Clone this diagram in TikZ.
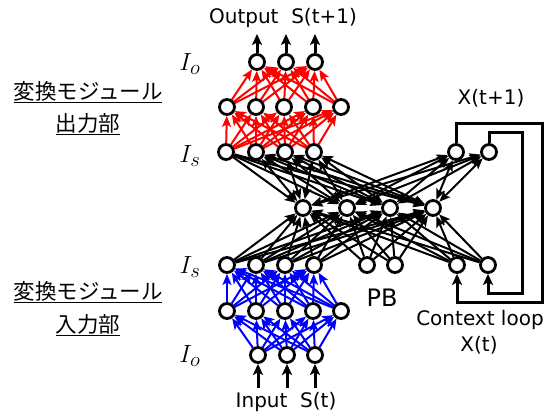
\documentclass[tikz,border=0pt]{standalone}
\usepackage{fontspec}
\setmainfont{DejaVu Sans}
\newfontfamily\jpfont{Noto Sans CJK JP}
\usetikzlibrary{arrows.meta}
\pgfdeclarelayer{background}
\pgfsetlayers{background,main}
\begin{document}
\begin{tikzpicture}[x=1pt,y=-1pt,
  neuron/.style={circle,draw=black,line width=2.8pt,fill=white,minimum size=15pt,inner sep=0pt},
  tip/.style={-{Stealth[length=11pt,width=9pt,inset=2.5pt]}},
  bothtip/.style={{Stealth[length=11pt,width=9pt,inset=2.5pt]}-{Stealth[length=11pt,width=9pt,inset=2.5pt]}},
  redarrow/.style={draw=red,line width=2pt,tip},
  bluearrow/.style={draw=blue,line width=2pt,tip},
  blackarrow/.style={draw=black,line width=2pt,tip},
  blackboth/.style={draw=black,line width=2pt,bothtip},
  ioarrow/.style={draw=black,line width=3pt,-{Stealth[length=11pt,width=10pt,inset=2.5pt]}},
  loopline/.style={draw=black,line width=3pt,-{Stealth[length=11pt,width=10pt,inset=2.5pt]}},
  lbl/.style={font=\fontsize{20}{23}\selectfont,inner sep=0pt},
  jp/.style={font=\jpfont\fontsize{21.5}{25}\selectfont,inner sep=0pt},
  layerlbl/.style={font=\fontsize{30}{32}\selectfont,inner sep=0pt}
]
\useasboundingbox (0,0) rectangle (549,416);

% top output layer
\node[neuron] (o1) at (257,62) {};
\node[neuron] (o2) at (286,62) {};
\node[neuron] (o3) at (315,62) {};
% top hidden
\node[neuron] (h1) at (227,107) {};
\node[neuron] (h2) at (256,107) {};
\node[neuron] (h3) at (284,107) {};
\node[neuron] (h4) at (313,107) {};
\node[neuron] (h5) at (341,107) {};
% top Is
\node[neuron] (s1) at (226,152) {};
\node[neuron] (s2) at (256,152) {};
\node[neuron] (s3) at (285,152) {};
\node[neuron] (s4) at (314,152) {};
\node[neuron] (x1) at (456,152) {};
\node[neuron] (x2) at (489,152) {};
% middle
\node[neuron] (m1) at (303,208) {};
\node[neuron] (m2) at (347,208) {};
\node[neuron] (m3) at (390,208) {};
\node[neuron] (m4) at (433,208) {};
% bottom Is, PB, context
\node[neuron] (b1) at (227,265) {};
\node[neuron] (b2) at (256,265) {};
\node[neuron] (b3) at (285,265) {};
\node[neuron] (b4) at (314,265) {};
\node[neuron] (p1) at (367,265) {};
\node[neuron] (p2) at (395,265) {};
\node[neuron] (c1) at (457,265) {};
\node[neuron] (c2) at (488,265) {};
% bottom hidden
\node[neuron] (g1) at (227,311) {};
\node[neuron] (g2) at (256,311) {};
\node[neuron] (g3) at (285,311) {};
\node[neuron] (g4) at (313,311) {};
\node[neuron] (g5) at (341,311) {};
% input
\node[neuron] (i1) at (258,355) {};
\node[neuron] (i2) at (287,355) {};
\node[neuron] (i3) at (315,355) {};

% free ends
\coordinate (ot1) at (257,34);
\coordinate (ot2) at (286,34);
\coordinate (ot3) at (315,34);
\coordinate (ib1) at (258,388);
\coordinate (ib2) at (287,388);
\coordinate (ib3) at (315,388);
\coordinate (la1) at (542,123);
\coordinate (la2) at (457,302);
\coordinate (lb1) at (522,132);
\coordinate (lb2) at (488,293);

\begin{pgfonlayer}{background}
  % red
  \foreach \i in {1,...,5} \foreach \j in {1,2,3} \draw[redarrow] (h\i) -- (o\j);
  \foreach \i in {1,...,4} \foreach \j in {1,...,5} \draw[redarrow] (s\i) -- (h\j);
  % blue
  \foreach \i in {1,2,3} \foreach \j in {1,...,5} \draw[bluearrow] (i\i) -- (g\j);
  \foreach \i in {1,...,5} \foreach \j in {1,...,4} \draw[bluearrow] (g\i) -- (b\j);
  % black into middle
  \foreach \n in {b1,b2,b3,b4,p1,p2,c1,c2} \foreach \j in {1,...,4} \draw[blackarrow] (\n) -- (m\j);
  % middle to top
  \foreach \j in {1,...,4} \draw[blackarrow] (s1) -- (m\j);
  \foreach \n in {s2,s3,s4,x1,x2} \foreach \j in {1,...,4} \draw[blackboth] (m\j) -- (\n);
\end{pgfonlayer}

% output / input arrows
\draw[ioarrow] (o1) -- (ot1);
\draw[ioarrow] (o2) -- (ot2);
\draw[ioarrow] (o3) -- (ot3);
\draw[ioarrow] (ib1) -- (i1);
\draw[ioarrow] (ib2) -- (i2);
\draw[ioarrow] (ib3) -- (i3);

% context loops
\draw[loopline] (x1.north) |- (la1) |- (la2) -- (c1);
\draw[loopline] (x2.north) |- (lb1) |- (lb2) -- (c2);

% texts
\node[lbl] (tout) at (283,18) {Output\ \ S(t+1)};
\node[lbl] (tin) at (286,402) {Input\ \ S(t)};
\node[lbl] (txt1) at (491,98) {X(t+1)};
\node[lbl,font=\fontsize{24}{27}\selectfont] (tpb) at (382,298) {PB};
\node[lbl] (tctx) at (480,320) {Context loop};
\node[lbl] (txt) at (479,345) {X(t)};

\node[layerlbl] (lio1) at (190,64) {$I_o$};
\node[layerlbl] (lis1) at (190,156) {$I_s$};
\node[layerlbl] (lis2) at (190,267) {$I_s$};
\node[layerlbl] (lio2) at (190,356) {$I_o$};

\node[jp] (jp1) at (88,92) {\underline{変換モジュール}};
\node[jp] (jp2) at (88,124) {\underline{出力部}};
\node[jp] (jp3) at (88,292) {\underline{変換モジュール}};
\node[jp] (jp4) at (88,325) {\underline{入力部}};
\end{tikzpicture}
\end{document}
